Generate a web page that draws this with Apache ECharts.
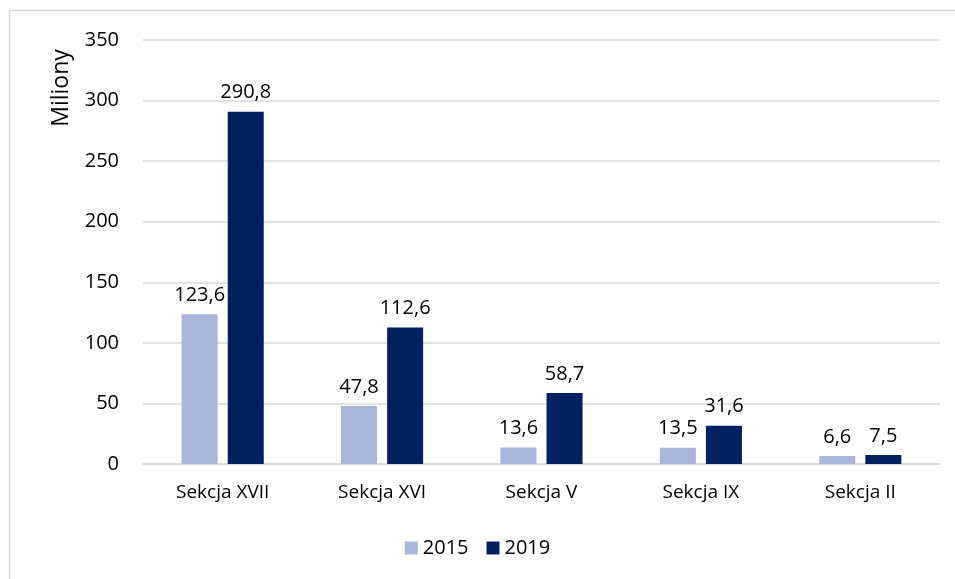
<!DOCTYPE html>
<html>
<head>
<meta charset="utf-8">
<script src="https://cdn.jsdelivr.net/npm/echarts@6/dist/echarts.min.js"></script>
<style>html,body{margin:0;padding:0;background:#fff}#c{width:955px;height:579px}</style>
</head>
<body>
<div id="c"></div>
<script>
var categories = ['Sekcja XVII', 'Sekcja XVI', 'Sekcja V', 'Sekcja IX', 'Sekcja II'];
var values2015 = [123.6, 47.8, 13.6, 13.5, 6.6];
var values2019 = [290.8, 112.6, 58.7, 31.6, 7.5];
var seriesNames = ['2015', '2019'];
var FONT = '"Open Sans", "Noto Sans", sans-serif';
var chart = echarts.init(document.getElementById('c'));
function fmt(p){ return String(p.value).replace('.', ','); }
chart.setOption({
  animation: false,
  textStyle: {fontFamily: FONT},
  graphic: [
    {type: 'rect', shape: {x: 9.5, y: 10.5, width: 1000, height: 700}, style: {fill: 'none', stroke: '#d9d9d9', lineWidth: 1.5}},
    {type: 'text', x: 61, y: 88, rotation: Math.PI/2, style: {text: 'Miliony', fontSize: 23, fontFamily: FONT, fill: '#000', align: 'center', verticalAlign: 'middle'}}
  ],
  legend: {
    data: seriesNames, bottom: 16, left: 'center', itemWidth: 13, itemHeight: 13, itemGap: 18,
    icon: 'rect',
    textStyle: {fontSize: 20, color: '#000', fontFamily: FONT}
  },
  grid: {left: 143, right: 15, top: 40, bottom: 115, containLabel: false},
  xAxis: {
    type: 'category', data: categories,
    axisLine: {lineStyle: {color: '#d9d9d9', width: 1.5}},
    axisTick: {show: false},
    axisLabel: {color: '#000', fontSize: 19, margin: 19, fontFamily: FONT}
  },
  yAxis: {
    type: 'value', min: 0, max: 350, interval: 50,
    axisLine: {show: false}, axisTick: {show: false},
    axisLabel: {color: '#000', fontSize: 20, margin: 24, fontFamily: FONT},
    splitLine: {lineStyle: {color: '#d9d9d9', width: 1.5}}
  },
  series: [
    {name: seriesNames[0], type: 'bar', data: values2015, barWidth: 36, barGap: '28%',
     itemStyle: {color: '#a9b6db'},
     label: {show: true, position: 'top', distance: 9, color: '#000', fontSize: 20, formatter: fmt, fontFamily: FONT}},
    {name: seriesNames[1], type: 'bar', data: values2019, barWidth: 36,
     itemStyle: {color: '#00205f'},
     label: {show: true, position: 'top', distance: 9, color: '#000', fontSize: 20, formatter: fmt, fontFamily: FONT}}
  ]
});
</script>
</body>
</html>
